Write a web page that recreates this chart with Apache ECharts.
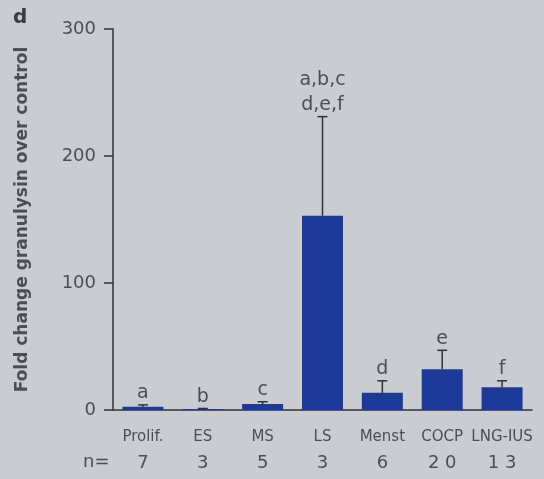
<!DOCTYPE html>
<html>
<head>
<meta charset="utf-8">
<script src="https://cdn.jsdelivr.net/npm/echarts@6/dist/echarts.min.js"></script>
<style>
  html, body { margin: 0; padding: 0; background: #c9ccd0; }
  #chart { width: 544px; height: 479px; }
</style>
</head>
<body>
<div id="chart"></div>
<script>
// Granulysin fold change by cycle phase / contraceptive group
const categories = ['Prolif.', 'ES', 'MS', 'LS', 'Menst', 'COCP', 'LNG-IUS'];
const foldChange = [2.5, 0.8, 4.7, 153, 13.5, 32, 18];
const errorSEM = [1.5, 0.4, 1.8, 78, 9.5, 15, 5];
const sigLetters = ['a', 'b', 'c', 'a,b,c\nd,e,f', 'd', 'e', 'f'];
const nCounts = [7, 3, 5, 3, 6, 20, 13];
const yTicks = [0, 100, 200, 300];

const textGrey = '#4c4e52';
const axisColor = '#303236';
const barBlue = '#1b3a9a';
const font = '"DejaVu Sans", Verdana, sans-serif';

const chart = echarts.init(document.getElementById('chart'), null, { renderer: 'canvas' });

const errData = categories.map((c, i) => [i, foldChange[i], foldChange[i] + errorSEM[i], sigLetters[i]]);

chart.setOption({
  backgroundColor: '#c9ccd0',
  animation: false,
  grid: { left: 113, right: 12, top: 29, bottom: 69 },
  xAxis: [{
    type: 'category',
    data: categories,
    axisLine: { lineStyle: { color: axisColor, width: 1.5 } },
    axisTick: { alignWithLabel: true, length: 9, lineStyle: { color: axisColor, width: 1.5 } },
    axisLabel: { color: textGrey, fontSize: 15, fontFamily: font, margin: 20, interval: 0 }
  }, {
    type: 'category',
    position: 'bottom',
    offset: 40,
    data: nCounts.map(v => String(v).split('').join(' ')),
    axisLine: { show: false },
    axisTick: { show: false },
    axisLabel: { color: textGrey, fontSize: 18, fontFamily: font, margin: 4, interval: 0 }
  }],
  yAxis: {
    type: 'value',
    min: yTicks[0],
    max: yTicks[yTicks.length - 1],
    interval: 100,
    name: 'Fold change granulysin over control',
    nameLocation: 'middle',
    nameGap: 82,
    nameRotate: 90,
    nameTextStyle: { color: textGrey, fontSize: 17, fontWeight: 'bold', fontFamily: font },
    splitLine: { show: false },
    axisLine: { show: true, lineStyle: { color: axisColor, width: 1.5 } },
    axisTick: { show: true, length: 9, lineStyle: { color: axisColor, width: 1.5 } },
    axisLabel: { color: textGrey, fontSize: 18, fontFamily: font, margin: 17 }
  },
  graphic: [
    { type: 'text', left: 13, top: 8, style: { text: 'd', fill: '#3a3c40', font: 'bold 20px ' + font } },
    { type: 'text', left: 83, top: 453, style: { text: 'n=', fill: textGrey, font: '18px ' + font } }
  ],
  series: [{
    type: 'bar',
    data: foldChange,
    barWidth: 41,
    itemStyle: { color: barBlue },
    z: 2
  }, {
    type: 'custom',
    data: errData,
    z: 3,
    renderItem: function (params, api) {
      const x = api.value(0);
      const base = api.coord([x, api.value(1)]);
      const top = api.coord([x, api.value(2)]);
      const capHalf = 5;
      const lineStyle = { stroke: axisColor, lineWidth: 1.5 };
      return {
        type: 'group',
        children: [
          { type: 'line', shape: { x1: base[0], y1: base[1], x2: top[0], y2: top[1] }, style: lineStyle },
          { type: 'line', shape: { x1: top[0] - capHalf, y1: top[1], x2: top[0] + capHalf, y2: top[1] }, style: lineStyle },
          {
            type: 'text',
            x: top[0],
            y: top[1] + 1,
            style: {
              text: sigLetters[params.dataIndex],
              fill: textGrey,
              font: '19px ' + font,
              align: 'center',
              verticalAlign: 'bottom',
              lineHeight: 25
            }
          }
        ]
      };
    }
  }]
});
</script>
</body>
</html>
